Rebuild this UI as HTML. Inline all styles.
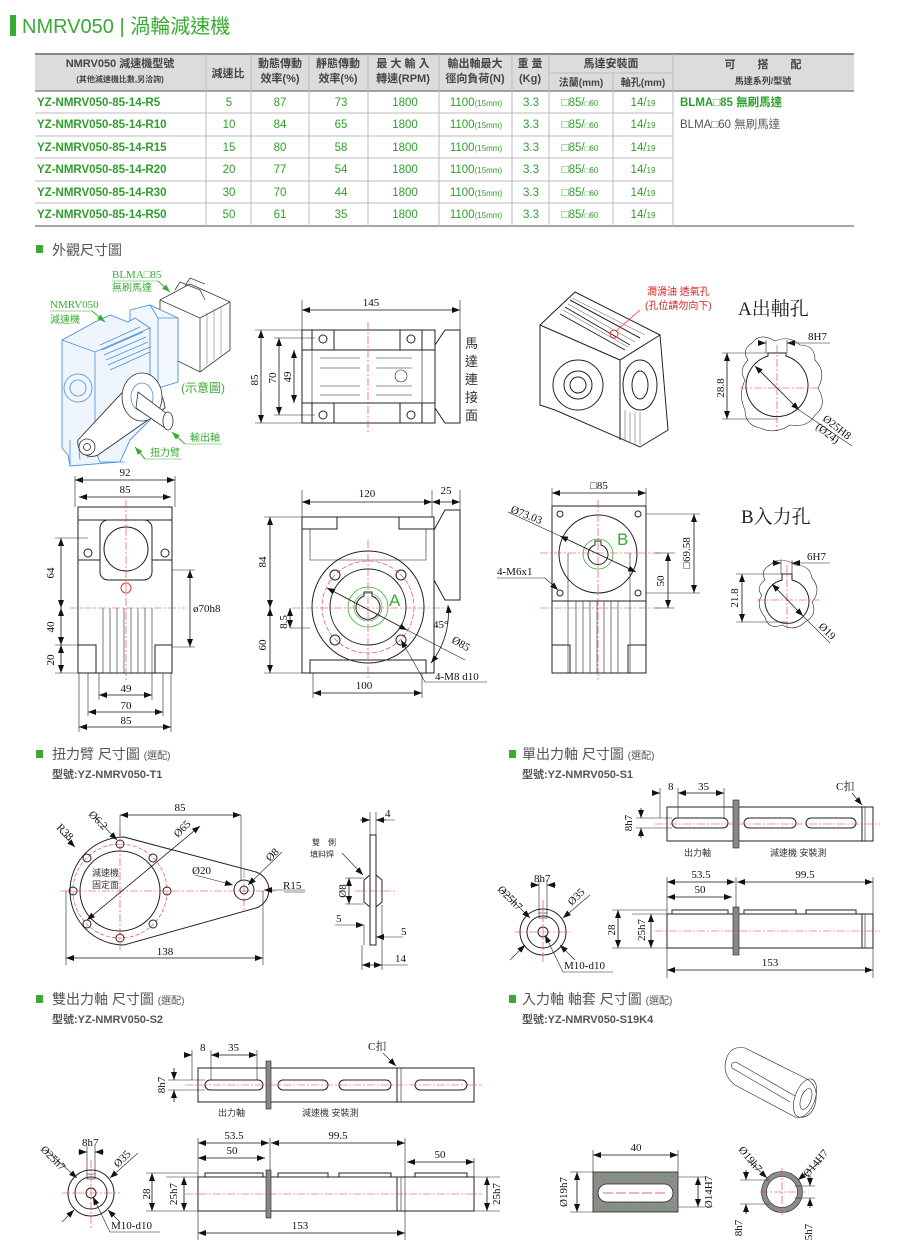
<!DOCTYPE html>
<html><head><meta charset="utf-8"><style>
html,body{margin:0;padding:0;background:#fff;}
svg{display:block;}
text{font-family:"Liberation Sans","Noto Sans CJK TC",sans-serif;}
text.s,.s{font-family:"Liberation Serif","Noto Serif CJK SC",serif;font-size:11px;fill:#111;}
text.serif{font-family:"Liberation Serif","Noto Serif CJK SC",serif;}
.o{fill:none;stroke:#222;stroke-width:1;}
.t{fill:none;stroke:#222;stroke-width:.6;}
.r{fill:none;stroke:#e33;stroke-width:.6;stroke-dasharray:8 2 2 2;}
.d{fill:none;stroke:#111;stroke-width:.8;marker-start:url(#a1);marker-end:url(#a2);}
.b{fill:none;stroke:#4a90d9;stroke-width:.8;}
.tb{font-size:11.5px;}
</style></head><body>
<svg width="900" height="1260" viewBox="0 0 900 1260" xmlns="http://www.w3.org/2000/svg">
<defs>
<marker id="a2" markerWidth="8" markerHeight="6" refX="8" refY="3" orient="auto" markerUnits="userSpaceOnUse"><path d="M0,0 L8,3 L0,6z" fill="#111"/></marker>
<marker id="a1" markerWidth="8" markerHeight="6" refX="0" refY="3" orient="auto" markerUnits="userSpaceOnUse"><path d="M8,0 L0,3 L8,6z" fill="#111"/></marker>
<marker id="g2" markerWidth="8" markerHeight="6" refX="8" refY="3" orient="auto" markerUnits="userSpaceOnUse"><path d="M0,0 L8,3 L0,6z" fill="#3aaa35"/></marker>
</defs>

<!-- Title -->
<rect x="10" y="15" width="6" height="21" fill="#3aaa35"/>
<text x="22" y="33" font-size="20" fill="#3aaa35">NMRV050 | 渦輪減速機</text>

<!-- Table -->
<rect x="35" y="54" width="819" height="37" fill="#dcdcdc"/>
<line x1="35" y1="54" x2="854" y2="54" stroke="#888" stroke-width="2"/>
<line x1="35" y1="91" x2="854" y2="91" stroke="#888" stroke-width="1.5"/>
<line x1="35" y1="226" x2="854" y2="226" stroke="#888" stroke-width="1.5"/>
<g stroke="#bbb" stroke-width="1">
<line x1="206" y1="54" x2="206" y2="226"/><line x1="251" y1="54" x2="251" y2="226"/><line x1="309" y1="54" x2="309" y2="226"/><line x1="368" y1="54" x2="368" y2="226"/><line x1="439" y1="54" x2="439" y2="226"/><line x1="512" y1="54" x2="512" y2="226"/><line x1="549" y1="54" x2="549" y2="226"/><line x1="613" y1="73" x2="613" y2="226"/><line x1="673" y1="54" x2="673" y2="226"/>
<line x1="549" y1="73" x2="673" y2="73"/>
<line x1="35" y1="113" x2="673" y2="113"/><line x1="35" y1="136" x2="673" y2="136"/><line x1="35" y1="158" x2="673" y2="158"/><line x1="35" y1="181" x2="673" y2="181"/><line x1="35" y1="203" x2="673" y2="203"/>
</g>
<g fill="#444" font-size="11" text-anchor="middle" font-weight="bold">
<text x="120" y="67">NMRV050 減速機型號</text>
<text x="120" y="82" font-size="8">(其他減速機比數,另洽詢)</text>
<text x="228" y="77">減速比</text>
<text x="280" y="67">動態傳動</text><text x="280" y="82">效率(%)</text>
<text x="338" y="67">靜態傳動</text><text x="338" y="82">效率(%)</text>
<text x="403" y="67">最 大 輸 入</text><text x="403" y="82">轉速(RPM)</text>
<text x="475" y="67">輸出軸最大</text><text x="475" y="82">徑向負荷(N)</text>
<text x="530" y="67">重 量</text><text x="530" y="82">(Kg)</text>
<text x="611" y="67">馬達安裝面</text>
<text x="581" y="86" font-size="10">法蘭(mm)</text><text x="643" y="86" font-size="10">軸孔(mm)</text>
<text x="763" y="68">可　　搭　　配</text><text x="763" y="84" font-size="9">馬達系列/型號</text>
</g>
<g class="tb" fill="#2f9e2c" font-weight="bold">
<text x="37" y="106">YZ-NMRV050-85-14-R5</text>
<text x="37" y="128">YZ-NMRV050-85-14-R10</text>
<text x="37" y="151">YZ-NMRV050-85-14-R15</text>
<text x="37" y="173">YZ-NMRV050-85-14-R20</text>
<text x="37" y="196">YZ-NMRV050-85-14-R30</text>
<text x="37" y="218">YZ-NMRV050-85-14-R50</text>
</g>
<g class="tb" fill="#2f9e2c" text-anchor="middle">
<text x="229" y="106">5</text><text x="280" y="106">87</text><text x="341" y="106">73</text><text x="405" y="106">1800</text><text x="476" y="106">1100<tspan font-size="8">(15mm)</tspan></text><text x="531" y="106">3.3</text><text x="580" y="106">□85/<tspan font-size="8">□60</tspan></text><text x="643" y="106">14/<tspan font-size="8">19</tspan></text>
<text x="229" y="128">10</text><text x="280" y="128">84</text><text x="341" y="128">65</text><text x="405" y="128">1800</text><text x="476" y="128">1100<tspan font-size="8">(15mm)</tspan></text><text x="531" y="128">3.3</text><text x="580" y="128">□85/<tspan font-size="8">□60</tspan></text><text x="643" y="128">14/<tspan font-size="8">19</tspan></text>
<text x="229" y="151">15</text><text x="280" y="151">80</text><text x="341" y="151">58</text><text x="405" y="151">1800</text><text x="476" y="151">1100<tspan font-size="8">(15mm)</tspan></text><text x="531" y="151">3.3</text><text x="580" y="151">□85/<tspan font-size="8">□60</tspan></text><text x="643" y="151">14/<tspan font-size="8">19</tspan></text>
<text x="229" y="173">20</text><text x="280" y="173">77</text><text x="341" y="173">54</text><text x="405" y="173">1800</text><text x="476" y="173">1100<tspan font-size="8">(15mm)</tspan></text><text x="531" y="173">3.3</text><text x="580" y="173">□85/<tspan font-size="8">□60</tspan></text><text x="643" y="173">14/<tspan font-size="8">19</tspan></text>
<text x="229" y="196">30</text><text x="280" y="196">70</text><text x="341" y="196">44</text><text x="405" y="196">1800</text><text x="476" y="196">1100<tspan font-size="8">(15mm)</tspan></text><text x="531" y="196">3.3</text><text x="580" y="196">□85/<tspan font-size="8">□60</tspan></text><text x="643" y="196">14/<tspan font-size="8">19</tspan></text>
<text x="229" y="218">50</text><text x="280" y="218">61</text><text x="341" y="218">35</text><text x="405" y="218">1800</text><text x="476" y="218">1100<tspan font-size="8">(15mm)</tspan></text><text x="531" y="218">3.3</text><text x="580" y="218">□85/<tspan font-size="8">□60</tspan></text><text x="643" y="218">14/<tspan font-size="8">19</tspan></text>
</g>
<text x="680" y="106" class="tb" fill="#2f9e2c" font-weight="bold">BLMA□85 無刷馬達</text>
<text x="680" y="128" class="tb" fill="#555">BLMA□60 無刷馬達</text>

<!-- Section headers -->
<g font-size="14" fill="#555">
<rect x="36" y="245" width="7" height="8" fill="#3aaa35"/><text x="52" y="255">外觀尺寸圖</text>
<rect x="36" y="750" width="7" height="8" fill="#3aaa35"/><text x="52" y="759">扭力臂 尺寸圖 <tspan font-size="10">(選配)</tspan></text>
<text x="52" y="778" font-size="11" font-weight="bold">型號:YZ-NMRV050-T1</text>
<rect x="509" y="750" width="7" height="8" fill="#3aaa35"/><text x="522" y="759">單出力軸 尺寸圖 <tspan font-size="10">(選配)</tspan></text>
<text x="522" y="778" font-size="11" font-weight="bold">型號:YZ-NMRV050-S1</text>
<rect x="36" y="995" width="7" height="8" fill="#3aaa35"/><text x="52" y="1004">雙出力軸 尺寸圖 <tspan font-size="10">(選配)</tspan></text>
<text x="52" y="1023" font-size="11" font-weight="bold">型號:YZ-NMRV050-S2</text>
<rect x="509" y="995" width="7" height="8" fill="#3aaa35"/><text x="522" y="1004">入力軸 軸套 尺寸圖 <tspan font-size="10">(選配)</tspan></text>
<text x="522" y="1023" font-size="11" font-weight="bold">型號:YZ-NMRV050-S19K4</text>
</g>

<!-- Isometric illustration (left) -->
<g>
<!-- motor -->
<path d="M160,300 L190,284 L230,302 L230,350 L200,372 L160,352z" fill="#fff" stroke="#444" stroke-width=".9"/>
<path d="M160,300 L200,318 L230,302 M200,318 L200,372" fill="none" stroke="#444" stroke-width=".8"/>
<path d="M175,290 L180,282 L200,290 L205,300 M185,286 L190,278 L205,284" fill="none" stroke="#444" stroke-width=".8"/>
<path d="M207,313 L207,365 M214,309 L214,360 M221,306 L221,355" fill="none" stroke="#666" stroke-width=".5"/>
<!-- motor flange (blue) -->
<path d="M130,310 L150,305 L178,318 L178,382 L158,388 L130,375z" fill="#f2f7fd" stroke="#4a90d9" stroke-width=".9"/>
<path d="M150,305 L158,318 L158,388 M158,318 L178,318" class="b"/>
<!-- gearbox body -->
<path d="M62,340 L95,322 L110,315 L128,322 L135,318 L150,328 L150,420 L130,440 L120,462 L70,466 L68,455 L62,448z" fill="#eef5fd" stroke="#4a90d9" stroke-width=".9"/>
<path d="M62,340 L95,352 L150,328 M95,352 L95,450" class="b"/>
<path d="M100,345 L140,327 M102,350 L143,332 M104,355 L146,337 M106,360 L148,342 M108,365 L150,347 M110,370 L150,352" class="b"/>
<circle cx="78" cy="388" r="14" class="b"/>
<circle cx="78" cy="388" r="8" class="b"/>
<path d="M70,440 L70,465 M78,440 L80,460 M86,440 L88,458 M94,440 L96,456" class="b"/>
<path d="M95,450 L100,462 L125,462" class="b"/>
<!-- torque arm -->
<path d="M78,440 L132,382 A26,30 0 0 1 165,408 L98,455 A14,14 0 0 1 78,440z" fill="#fff" stroke="#333" stroke-width=".9"/>
<ellipse cx="142" cy="397" rx="20" ry="24" fill="#fff" stroke="#333" stroke-width=".8"/>
<ellipse cx="142" cy="397" rx="11" ry="14" fill="none" stroke="#4a90d9" stroke-width=".8"/>
<circle cx="87" cy="447" r="8" fill="#fff" stroke="#333" stroke-width=".8"/><circle cx="87" cy="447" r="3.5" fill="none" stroke="#333" stroke-width=".8"/>
<path d="M138,392 L166,413 L172,420 L165,428 L136,408z" fill="#fff" stroke="#333" stroke-width=".8"/>
<ellipse cx="168" cy="421" rx="5" ry="9" fill="#fff" stroke="#333" stroke-width=".8"/>
</g>
<g font-size="11" fill="#3aaa35">
<text x="112" y="278" class="serif" style="fill:#3aaa35">BLMA□85</text><text x="112" y="291" font-size="10">無刷馬達</text>
<line x1="112" y1="281" x2="158" y2="281" stroke="#3aaa35" stroke-width=".6"/>
<text x="50" y="308" class="serif" style="fill:#3aaa35">NMRV050</text><text x="50" y="323" font-size="10">減速機</text>
<line x1="50" y1="311" x2="92" y2="311" stroke="#3aaa35" stroke-width=".6"/>
<path d="M92,311 L105,322" stroke="#3aaa35" fill="none" marker-end="url(#g2)"/>
<path d="M158,281 L170,292" stroke="#3aaa35" fill="none" marker-end="url(#g2)"/>
<text x="181" y="392" font-size="12">(示意圖)</text>
<text x="190" y="441" font-size="10">輸出軸</text><line x1="185" y1="444" x2="222" y2="444" stroke="#3aaa35" stroke-width=".6"/>
<path d="M185,444 L172,432" stroke="#3aaa35" fill="none" marker-end="url(#g2)"/>
<text x="150" y="456" font-size="10">扭力臂</text><line x1="145" y1="459" x2="182" y2="459" stroke="#3aaa35" stroke-width=".6"/>
<path d="M145,459 L135,447" stroke="#3aaa35" fill="none" marker-end="url(#g2)"/>
</g>

<!-- Top front view 145 -->
<g>
<rect x="302" y="330" width="133" height="93" class="o"/>
<rect x="312" y="330" width="22" height="20" class="o"/><rect x="400" y="330" width="22" height="20" class="o"/>
<rect x="312" y="403" width="22" height="20" class="o"/><rect x="400" y="403" width="22" height="20" class="o"/>
<line x1="302" y1="350" x2="435" y2="350" class="o"/><line x1="302" y1="403" x2="435" y2="403" class="o"/>
<g class="t"><line x1="320" y1="358" x2="360" y2="358"/><line x1="376" y1="358" x2="412" y2="358"/><line x1="320" y1="368" x2="360" y2="368"/><line x1="376" y1="368" x2="412" y2="368"/><line x1="320" y1="386" x2="360" y2="386"/><line x1="376" y1="386" x2="412" y2="386"/><line x1="320" y1="395" x2="360" y2="395"/><line x1="376" y1="395" x2="412" y2="395"/><line x1="312" y1="350" x2="312" y2="403"/><line x1="422" y1="350" x2="422" y2="403"/></g>
<circle cx="401" cy="376" r="6" class="t"/>
<circle cx="323" cy="339" r="4" class="o"/><circle cx="411" cy="339" r="4" class="o"/><circle cx="323" cy="415" r="4" class="o"/><circle cx="411" cy="415" r="4" class="o"/>
<path d="M435,345 L445,330 L460,330 L460,423 L445,423 L435,408" class="o"/>
<line x1="368" y1="322" x2="368" y2="432" class="r"/>
<line x1="302" y1="300" x2="302" y2="330" class="t"/><line x1="460" y1="300" x2="460" y2="330" class="t"/>
<line x1="302" y1="310" x2="460" y2="310" class="d"/>
<text x="371" y="306" class="s" text-anchor="middle">145</text>
<line x1="255" y1="330" x2="302" y2="330" class="t"/><line x1="255" y1="423" x2="302" y2="423" class="t"/>
<line x1="274" y1="338" x2="315" y2="338" class="t"/><line x1="274" y1="415" x2="315" y2="415" class="t"/>
<line x1="261" y1="330" x2="261" y2="423" class="d"/><line x1="279" y1="338" x2="279" y2="415" class="d"/><line x1="294" y1="350" x2="294" y2="403" class="d"/>
<text transform="translate(258,380) rotate(-90)" class="s" text-anchor="middle">85</text>
<text transform="translate(276,378) rotate(-90)" class="s" text-anchor="middle">70</text>
<text transform="translate(291,377) rotate(-90)" class="s" text-anchor="middle">49</text>
<g font-size="13" fill="#333"><text x="465" y="348">馬</text><text x="465" y="366">達</text><text x="465" y="384">連</text><text x="465" y="402">接</text><text x="465" y="420">面</text></g>
</g>

<!-- Iso view right -->
<g class="o">
<path d="M540,325 L575,292 L660,335 L668,430 L640,447 L555,410 L540,405z" fill="#fff"/>
<path d="M540,325 L620,360 L660,335 M620,360 L620,440"/>
<path d="M570,300 L640,338 M565,307 L630,345 M560,314 L625,350"/>
<path d="M572,298 L645,335 M568,304 L635,342 M563,310 L628,347" stroke-width=".4"/>
<circle cx="578" cy="385" r="25"/><circle cx="578" cy="385" r="14"/><circle cx="578" cy="385" r="8"/>
<ellipse cx="640" cy="385" rx="17" ry="25"/><ellipse cx="640" cy="385" rx="8" ry="14"/>
<path d="M625,410 L625,440 M630,412 L630,442 M635,412 L635,444 M640,412 L640,445" stroke-width=".4"/>
</g>
<circle cx="614" cy="334" r="4" fill="none" stroke="#e33"/>
<line x1="616" y1="331" x2="640" y2="310" stroke="#e33" stroke-width=".7"/>
<g fill="#d62020" font-size="10"><text x="647" y="295">潤滑油 透氣孔</text><text x="645" y="309">(孔位請勿向下)</text></g>

<!-- A output hole -->
<text x="738" y="315" class="serif" font-size="19" fill="#222">A出軸孔</text>
<path d="M748,360 Q741,350 752,343 Q760,332 775,341 Q790,335 800,345 Q815,345 815,360 Q827,372 818,388 Q828,405 815,415 Q808,428 790,425 Q775,435 760,428 Q745,425 745,410 Q738,395 745,380 Q738,370 748,360z" class="t"/>
<path d="M768,356 A31,31 0 1 0 786,356 L786,353 L768,353z" class="o"/>
<line x1="777" y1="345" x2="777" y2="430" class="r"/><line x1="740" y1="388" x2="820" y2="388" class="r"/>
<line x1="766" y1="340" x2="766" y2="353" class="t"/><line x1="787" y1="340" x2="787" y2="353" class="t"/>
<line x1="758" y1="343" x2="766" y2="343" class="d" style="marker-start:none"/><line x1="795" y1="343" x2="787" y2="343" class="d" style="marker-start:none"/>
<line x1="787" y1="343" x2="830" y2="343" class="t"/>
<text x="808" y="340" class="s">8H7</text>
<line x1="722" y1="353" x2="768" y2="353" class="t"/><line x1="722" y1="419" x2="777" y2="419" class="t"/>
<line x1="727" y1="353" x2="727" y2="419" class="d"/>
<text transform="translate(724,388) rotate(-90)" class="s" text-anchor="middle">28.8</text>
<line x1="755" y1="366" x2="799" y2="410" class="d"/><line x1="799" y1="410" x2="852" y2="446" class="t"/>
<text transform="translate(822,420) rotate(38)" class="s">Ø25H8</text>
<text transform="translate(815,428) rotate(38)" class="s">(Ø24)</text>

<!-- Bottom left side view -->
<g>
<rect x="78" y="507" width="94" height="13" class="o"/>
<path d="M78,520 L78,673 L172,673 L172,520" class="o"/>
<rect x="100" y="520" width="52" height="60" rx="8" class="o"/>
<circle cx="126" cy="549" r="22" class="o"/>
<circle cx="88" cy="553" r="4" class="o"/><circle cx="165" cy="553" r="4" class="o"/>
<circle cx="126" cy="588" r="5" fill="none" stroke="#e33"/>
<line x1="78" y1="560" x2="100" y2="560" class="o"/><line x1="152" y1="560" x2="172" y2="560" class="o"/>
<g class="t"><line x1="103" y1="608" x2="103" y2="673"/><line x1="110" y1="608" x2="110" y2="673"/><line x1="117" y1="608" x2="117" y2="673"/><line x1="124" y1="608" x2="124" y2="673"/><line x1="131" y1="608" x2="131" y2="673"/><line x1="138" y1="608" x2="138" y2="673"/><line x1="145" y1="608" x2="145" y2="673"/><line x1="152" y1="608" x2="152" y2="673"/></g>
<rect x="78" y="645" width="18" height="28" class="o"/><rect x="155" y="645" width="17" height="28" class="o"/>
<line x1="70" y1="608" x2="185" y2="608" class="r"/><line x1="126" y1="500" x2="126" y2="680" class="r"/>
<line x1="75" y1="476" x2="75" y2="507" class="t"/><line x1="175" y1="476" x2="175" y2="507" class="t"/>
<line x1="75" y1="480" x2="175" y2="480" class="d"/><text x="125" y="476" class="s" text-anchor="middle">92</text>
<line x1="79" y1="497" x2="171" y2="497" class="d"/><text x="125" y="493" class="s" text-anchor="middle">85</text>
<line x1="55" y1="538" x2="88" y2="538" class="t"/><line x1="55" y1="673" x2="78" y2="673" class="t"/><line x1="55" y1="645" x2="78" y2="645" class="t"/>
<line x1="61" y1="538" x2="61" y2="608" class="d"/><line x1="61" y1="608" x2="61" y2="645" class="d"/><line x1="61" y1="645" x2="61" y2="673" class="d"/>
<text transform="translate(54,573) rotate(-90)" class="s" text-anchor="middle">64</text>
<text transform="translate(54,627) rotate(-90)" class="s" text-anchor="middle">40</text>
<text transform="translate(54,660) rotate(-90)" class="s" text-anchor="middle">20</text>
<line x1="172" y1="570" x2="195" y2="570" class="t"/><line x1="172" y1="647" x2="195" y2="647" class="t"/>
<line x1="190" y1="570" x2="190" y2="647" class="d"/><text x="193" y="612" class="s">ø70h8</text>
<line x1="99" y1="673" x2="99" y2="700" class="t"/><line x1="152" y1="673" x2="152" y2="700" class="t"/>
<line x1="88" y1="673" x2="88" y2="716" class="t"/><line x1="163" y1="673" x2="163" y2="716" class="t"/>
<line x1="79" y1="673" x2="79" y2="732" class="t"/><line x1="171" y1="673" x2="171" y2="732" class="t"/>
<line x1="99" y1="695" x2="152" y2="695" class="d"/><text x="126" y="692" class="s" text-anchor="middle">49</text>
<line x1="88" y1="712" x2="163" y2="712" class="d"/><text x="126" y="709" class="s" text-anchor="middle">70</text>
<line x1="79" y1="727" x2="171" y2="727" class="d"/><text x="126" y="724" class="s" text-anchor="middle">85</text>
</g>

<!-- Bottom center view A -->
<g>
<rect x="302" y="517" width="132" height="156" class="o"/>
<rect x="302" y="517" width="35" height="12" class="o"/><rect x="399" y="517" width="35" height="12" class="o"/>
<path d="M310,529 L310,560 L426,560 L426,529" class="t"/>
<path d="M434,530 L445,510 L460,510 L460,600 L445,600 L434,580" class="o"/>
<rect x="310" y="660" width="116" height="13" class="o"/>
<circle cx="368" cy="607" r="56" class="o"/><circle cx="368" cy="607" r="46" fill="none" stroke="#e33" stroke-width=".6" stroke-dasharray="5 2"/>
<circle cx="368" cy="607" r="38" class="o"/>
<circle cx="368" cy="607" r="20" fill="none" stroke="#3aaa35" stroke-width=".8"/><circle cx="368" cy="607" r="14" fill="none" stroke="#3aaa35" stroke-width=".6"/>
<path d="M364,596 L364,592 L372,592 L372,596 A12,12 0 1 1 364,596z" class="o"/>
<circle cx="335" cy="575" r="5" class="o"/><circle cx="401" cy="575" r="5" class="o"/><circle cx="335" cy="640" r="5" class="o"/><circle cx="401" cy="640" r="5" class="o"/>
<line x1="292" y1="608" x2="450" y2="608" class="r"/><line x1="368" y1="540" x2="368" y2="680" class="r"/>
<text x="389" y="606" font-size="17" fill="#3aaa35">A</text>
<line x1="302" y1="490" x2="302" y2="517" class="t"/><line x1="432" y1="490" x2="432" y2="517" class="t"/><line x1="460" y1="490" x2="460" y2="510" class="t"/>
<line x1="302" y1="502" x2="432" y2="502" class="d"/><text x="367" y="497" class="s" text-anchor="middle">120</text>
<line x1="432" y1="502" x2="460" y2="502" class="d"/><text x="446" y="494" class="s" text-anchor="middle">25</text>
<line x1="264" y1="517" x2="302" y2="517" class="t"/><line x1="264" y1="673" x2="302" y2="673" class="t"/>
<line x1="270" y1="517" x2="270" y2="608" class="d"/><line x1="270" y1="608" x2="270" y2="673" class="d"/>
<text transform="translate(266,562) rotate(-90)" class="s" text-anchor="middle">84</text>
<text transform="translate(266,645) rotate(-90)" class="s" text-anchor="middle">60</text>
<line x1="290" y1="628" x2="310" y2="628" class="t"/><line x1="290" y1="608" x2="290" y2="628" class="d"/>
<text transform="translate(287,622) rotate(-90)" class="s" text-anchor="middle">8.5</text>
<line x1="313" y1="673" x2="313" y2="698" class="t"/><line x1="422" y1="673" x2="422" y2="698" class="t"/>
<line x1="313" y1="693" x2="422" y2="693" class="d"/><text x="364" y="689" class="s" text-anchor="middle">100</text>
<line x1="327" y1="588" x2="407" y2="630" class="d"/>
<line x1="407" y1="630" x2="465" y2="660" class="t"/>
<text transform="translate(451,642) rotate(30)" class="s">Ø85</text>
<path d="M448,605 A80,80 0 0 1 431,663" class="d"/>
<text x="433" y="628" class="s">45°</text>
<line x1="401" y1="640" x2="425" y2="682" class="t" marker-start="url(#a1)"/><line x1="425" y1="682" x2="487" y2="682" class="t"/>
<text x="435" y="680" class="s">4-M8 d10</text>
</g>

<!-- Bottom right view B -->
<g>
<rect x="552" y="506" width="94" height="95" class="o"/>
<path d="M552,553 L552,673 L646,673 L646,553" class="o"/>
<line x1="568" y1="553" x2="568" y2="673" class="t"/><line x1="630" y1="553" x2="630" y2="673" class="t"/>
<g class="t"><line x1="576" y1="601" x2="576" y2="673"/><line x1="583" y1="601" x2="583" y2="673"/><line x1="590" y1="601" x2="590" y2="673"/><line x1="597" y1="601" x2="597" y2="673"/><line x1="604" y1="601" x2="604" y2="673"/><line x1="611" y1="601" x2="611" y2="673"/><line x1="618" y1="601" x2="618" y2="673"/></g>
<rect x="552" y="645" width="18" height="28" class="o"/><rect x="628" y="645" width="18" height="28" class="o"/>
<circle cx="598" cy="554" r="39" class="o"/>
<circle cx="598" cy="554" r="15" fill="none" stroke="#3aaa35" stroke-width=".8"/>
<path d="M595,545 L595,541 L601,541 L601,545 A10,10 0 1 1 595,545z" class="o"/>
<circle cx="560" cy="514" r="3" class="o"/><circle cx="638" cy="514" r="3" class="o"/><circle cx="560" cy="593" r="3" class="o"/><circle cx="638" cy="593" r="3" class="o"/>
<line x1="540" y1="553" x2="660" y2="553" class="r"/><line x1="598" y1="500" x2="598" y2="680" class="r"/><line x1="540" y1="608" x2="660" y2="608" class="r"/>
<text x="617" y="545" font-size="17" fill="#3aaa35">B</text>
<line x1="552" y1="488" x2="552" y2="506" class="t"/><line x1="646" y1="488" x2="646" y2="506" class="t"/>
<line x1="552" y1="493" x2="646" y2="493" class="d"/><text x="599" y="489" class="s" text-anchor="middle">□85</text>
<line x1="560" y1="536" x2="636" y2="572" class="d"/><line x1="560" y1="536" x2="508" y2="512" class="t"/>
<text transform="translate(510,512) rotate(22)" class="s">Ø73.03</text>
<line x1="646" y1="514" x2="700" y2="514" class="t"/><line x1="646" y1="593" x2="700" y2="593" class="t"/>
<line x1="694" y1="514" x2="694" y2="593" class="d"/><text transform="translate(690,553) rotate(-90)" class="s" text-anchor="middle">□69.58</text>
<line x1="655" y1="553" x2="675" y2="553" class="t"/><line x1="655" y1="608" x2="675" y2="608" class="t"/>
<line x1="668" y1="553" x2="668" y2="608" class="d"/><text transform="translate(664,581) rotate(-90)" class="s" text-anchor="middle">50</text>
<text x="497" y="575" class="s">4-M6x1</text><line x1="497" y1="578" x2="545" y2="578" class="t"/>
<line x1="545" y1="578" x2="558" y2="590" class="t" marker-end="url(#a2)"/>
</g>

<!-- B input hole -->
<text x="741" y="523" class="serif" font-size="19" fill="#222">B入力孔</text>
<path d="M765,580 Q760,570 770,565 Q780,555 795,565 Q810,565 812,578 Q822,590 812,602 Q818,615 805,622 Q795,632 782,625 Q768,630 765,617 Q755,605 762,595 Q755,588 765,580z" class="t"/>
<path d="M782,580 A22,22 0 1 0 792,580 L792,574 L782,574z" class="o"/>
<line x1="787" y1="565" x2="787" y2="630" class="r"/><line x1="757" y1="600" x2="820" y2="600" class="r"/>
<line x1="781" y1="560" x2="781" y2="574" class="t"/><line x1="792" y1="560" x2="792" y2="574" class="t"/>
<line x1="772" y1="563" x2="781" y2="563" class="d" style="marker-start:none"/><line x1="800" y1="563" x2="792" y2="563" class="d" style="marker-start:none"/>
<line x1="792" y1="563" x2="830" y2="563" class="t"/><text x="807" y="560" class="s">6H7</text>
<line x1="736" y1="574" x2="782" y2="574" class="t"/><line x1="736" y1="622" x2="787" y2="622" class="t"/>
<line x1="742" y1="574" x2="742" y2="622" class="d"/><text transform="translate(738,598) rotate(-90)" class="s" text-anchor="middle">21.8</text>
<line x1="772" y1="584" x2="803" y2="616" class="d"/><line x1="803" y1="616" x2="830" y2="643" class="t"/>
<text transform="translate(818,627) rotate(45)" class="s">Ø19</text>

<!-- Torque arm -->
<g>
<path d="M124,837 L256,872 A19,19 0 0 1 256,908 L124,945 A54,54 0 0 1 124,837z" class="o"/>
<circle cx="120" cy="891" r="40" class="o"/>
<circle cx="120" cy="891" r="47" fill="none" stroke="#e33" stroke-width=".6" stroke-dasharray="4 2"/>
<g class="o"><circle cx="120" cy="844" r="4"/><circle cx="120" cy="938" r="4"/><circle cx="73" cy="891" r="4"/><circle cx="167" cy="891" r="4"/><circle cx="87" cy="858" r="4"/><circle cx="153" cy="858" r="4"/><circle cx="87" cy="924" r="4"/><circle cx="153" cy="924" r="4"/></g>
<circle cx="244" cy="890" r="10" class="o"/><circle cx="244" cy="890" r="4" class="o"/>
<line x1="60" y1="891" x2="275" y2="891" class="r"/><line x1="120" y1="830" x2="120" y2="952" class="r"/><line x1="244" y1="870" x2="244" y2="910" class="r"/>
<text x="92" y="876" font-size="9" fill="#333">減速機</text><text x="92" y="888" font-size="9" fill="#333">固定面</text>
<line x1="120" y1="815" x2="120" y2="836" class="t"/><line x1="241" y1="815" x2="241" y2="880" class="t"/>
<line x1="120" y1="815" x2="241" y2="815" class="d"/><text x="180" y="811" class="s" text-anchor="middle">85</text>
<line x1="66" y1="891" x2="66" y2="965" class="t"/><line x1="263" y1="891" x2="263" y2="965" class="t"/>
<line x1="66" y1="958" x2="263" y2="958" class="d"/><text x="165" y="955" class="s" text-anchor="middle">138</text>
<line x1="60" y1="832" x2="75" y2="847" class="t" marker-end="url(#a2)"/><text transform="translate(56,828) rotate(45)" class="s">R38</text>
<line x1="95" y1="817" x2="117" y2="840" class="t" marker-end="url(#a2)"/><text transform="translate(88,815) rotate(45)" class="s">Ø6.2</text>
<line x1="200" y1="826" x2="87" y2="920" class="d"/><text transform="translate(178,838) rotate(-45)" class="s">Ø65</text>
<line x1="195" y1="875" x2="233" y2="885" class="t" marker-end="url(#a2)"/><text x="192" y="874" class="s">Ø20</text>
<line x1="282" y1="852" x2="248" y2="885" class="t" marker-end="url(#a2)"/><text transform="translate(270,862) rotate(-45)" class="s">Ø8</text>
<line x1="305" y1="890" x2="264" y2="890" class="t" marker-end="url(#a2)"/><line x1="284" y1="892" x2="305" y2="892" class="t"/><text x="283" y="889" class="s">R15</text>
<rect x="370" y="835" width="6" height="110" class="o"/>
<path d="M370,875 L364,880 L364,902 L370,907 M376,875 L382,880 L382,902 L376,907" class="o"/>
<line x1="355" y1="891" x2="395" y2="891" class="r"/>
<line x1="370" y1="812" x2="370" y2="835" class="t"/><line x1="376" y1="812" x2="376" y2="835" class="t"/>
<line x1="360" y1="820" x2="370" y2="820" class="d" style="marker-start:none"/><line x1="386" y1="820" x2="376" y2="820" class="d" style="marker-start:none"/><line x1="376" y1="820" x2="395" y2="820" class="t"/>
<text x="385" y="817" class="s">4</text>
<text x="312" y="845" font-size="8" fill="#333">雙　側</text><text x="310" y="857" font-size="8" fill="#333">填料焊</text>
<line x1="342" y1="853" x2="363" y2="875" class="t" marker-end="url(#a2)"/>
<line x1="345" y1="878" x2="364" y2="878" class="t"/><line x1="345" y1="904" x2="364" y2="904" class="t"/>
<line x1="349" y1="878" x2="349" y2="904" class="d"/><text transform="translate(346,891) rotate(-90)" class="s" text-anchor="middle">Ø8</text>
<line x1="335" y1="925" x2="364" y2="925" class="t" marker-end="url(#a2)"/><text x="336" y="922" class="s">5</text>
<line x1="364" y1="925" x2="364" y2="945" class="t"/>
<line x1="403" y1="937" x2="376" y2="937" class="t" marker-end="url(#a2)"/><text x="401" y="935" class="s">5</text>
<line x1="362" y1="945" x2="362" y2="970" class="t"/><line x1="382" y1="905" x2="382" y2="970" class="t"/>
<line x1="362" y1="965" x2="382" y2="965" class="d"/><line x1="382" y1="965" x2="408" y2="965" class="t"/><text x="395" y="962" class="s">14</text>
</g>

<!-- Single shaft S1 top -->
<g>
<rect x="667" y="807" width="206" height="34" class="o"/>
<rect x="733" y="800" width="6" height="48" fill="#888" stroke="#222" stroke-width=".6"/>
<line x1="862" y1="807" x2="862" y2="841" class="o"/><line x1="865" y1="807" x2="865" y2="841" class="t"/>
<rect x="672" y="818" width="56" height="10" rx="5" class="o"/><rect x="744" y="818" width="52" height="10" rx="5" class="o"/><rect x="806" y="818" width="50" height="10" rx="5" class="o"/>
<line x1="655" y1="824" x2="880" y2="824" class="r"/>
<line x1="660" y1="788" x2="660" y2="818" class="t"/><line x1="678" y1="788" x2="678" y2="818" class="t"/><line x1="724" y1="788" x2="724" y2="818" class="t"/>
<line x1="652" y1="793" x2="660" y2="793" class="d" style="marker-start:none"/><line x1="678" y1="793" x2="724" y2="793" class="d"/>
<text x="668" y="790" class="s">8</text><text x="698" y="790" class="s">35</text>
<text x="836" y="790" class="s">C扣</text><line x1="852" y1="793" x2="862" y2="805" class="t" marker-end="url(#a2)"/>
<line x1="636" y1="818" x2="672" y2="818" class="t"/><line x1="636" y1="828" x2="672" y2="828" class="t"/>
<line x1="641" y1="808" x2="641" y2="818" class="d" style="marker-start:none"/><line x1="641" y1="838" x2="641" y2="828" class="d" style="marker-start:none"/>
<text transform="translate(632,823) rotate(-90)" class="s" text-anchor="middle">8h7</text>
<text x="684" y="856" font-size="9" fill="#333">出力軸</text><text x="770" y="856" font-size="9" fill="#333">減速機 安裝測</text>
</g>
<!-- S1 lower -->
<g>
<rect x="667" y="914" width="206" height="34" class="o"/>
<rect x="733" y="907" width="6" height="48" fill="#888" stroke="#222" stroke-width=".6"/>
<line x1="862" y1="914" x2="862" y2="948" class="o"/><line x1="865" y1="914" x2="865" y2="948" class="t"/>
<rect x="672" y="910" width="56" height="4" class="o"/><rect x="744" y="910" width="52" height="4" class="o"/><rect x="806" y="910" width="50" height="4" class="o"/>
<line x1="655" y1="931" x2="880" y2="931" class="r"/>
<line x1="667" y1="877" x2="667" y2="978" class="t"/><line x1="736" y1="877" x2="736" y2="907" class="t"/><line x1="873" y1="877" x2="873" y2="978" class="t"/>
<line x1="667" y1="882" x2="735" y2="882" class="d"/><text x="701" y="878" class="s" text-anchor="middle">53.5</text>
<line x1="737" y1="882" x2="873" y2="882" class="d"/><text x="805" y="878" class="s" text-anchor="middle">99.5</text>
<line x1="667" y1="897" x2="732" y2="897" class="d"/><text x="700" y="893" class="s" text-anchor="middle">50</text>
<line x1="612" y1="910" x2="667" y2="910" class="t"/><line x1="612" y1="948" x2="667" y2="948" class="t"/><line x1="632" y1="914" x2="667" y2="914" class="t"/>
<line x1="618" y1="910" x2="618" y2="948" class="d"/><line x1="651" y1="914" x2="651" y2="948" class="d"/>
<text transform="translate(615,930) rotate(-90)" class="s" text-anchor="middle">28</text>
<text transform="translate(645,930) rotate(-90)" class="s" text-anchor="middle">25h7</text>
<line x1="667" y1="970" x2="873" y2="970" class="d"/><text x="770" y="966" class="s" text-anchor="middle">153</text>
<circle cx="543" cy="932" r="23" class="o"/><circle cx="543" cy="932" r="16" class="o"/><circle cx="543" cy="932" r="5" class="o"/>
<rect x="539" y="913" width="8" height="5" class="t"/>
<line x1="515" y1="932" x2="572" y2="932" class="r"/><line x1="543" y1="900" x2="543" y2="962" class="r"/>
<line x1="539" y1="880" x2="539" y2="913" class="t"/><line x1="547" y1="880" x2="547" y2="913" class="t"/>
<line x1="530" y1="885" x2="539" y2="885" class="d" style="marker-start:none"/><line x1="556" y1="885" x2="547" y2="885" class="d" style="marker-start:none"/>
<text x="534" y="882" class="s">8h7</text>
<line x1="502" y1="890" x2="530" y2="918" class="t" marker-end="url(#a2)"/><text transform="translate(497,890) rotate(45)" class="s">Ø25h7</text>
<line x1="590" y1="895" x2="563" y2="918" class="t" marker-end="url(#a2)"/><text transform="translate(572,906) rotate(-45)" class="s">Ø35</text>
<line x1="510" y1="960" x2="525" y2="945" class="t" marker-end="url(#a2)"/>
<line x1="560" y1="945" x2="575" y2="960" class="t" marker-start="url(#a1)"/>
<line x1="545" y1="935" x2="563" y2="972" class="t" marker-start="url(#a1)"/><line x1="563" y1="972" x2="613" y2="972" class="t"/>
<text x="564" y="969" class="s">M10-d10</text>
</g>

<!-- S2 top -->
<g>
<rect x="198" y="1068" width="276" height="34" class="o"/>
<rect x="266" y="1061" width="5" height="48" fill="#888" stroke="#222" stroke-width=".6"/>
<line x1="397" y1="1068" x2="397" y2="1102" class="o"/><line x1="401" y1="1068" x2="401" y2="1102" class="t"/>
<rect x="205" y="1080" width="58" height="10" rx="5" class="o"/><rect x="278" y="1080" width="50" height="10" rx="5" class="o"/><rect x="339" y="1080" width="52" height="10" rx="5" class="o"/><rect x="415" y="1080" width="52" height="10" rx="5" class="o"/>
<line x1="185" y1="1085" x2="482" y2="1085" class="r"/>
<line x1="192" y1="1050" x2="192" y2="1080" class="t"/><line x1="211" y1="1050" x2="211" y2="1080" class="t"/><line x1="257" y1="1050" x2="257" y2="1080" class="t"/>
<line x1="184" y1="1055" x2="192" y2="1055" class="d" style="marker-start:none"/><line x1="211" y1="1055" x2="257" y2="1055" class="d"/>
<text x="200" y="1051" class="s">8</text><text x="228" y="1051" class="s">35</text>
<text x="368" y="1050" class="s">C扣</text><line x1="383" y1="1053" x2="396" y2="1066" class="t" marker-end="url(#a2)"/>
<line x1="168" y1="1080" x2="205" y2="1080" class="t"/><line x1="168" y1="1090" x2="205" y2="1090" class="t"/>
<line x1="174" y1="1068" x2="174" y2="1080" class="d" style="marker-start:none"/><line x1="174" y1="1102" x2="174" y2="1090" class="d" style="marker-start:none"/>
<text transform="translate(165,1085) rotate(-90)" class="s" text-anchor="middle">8h7</text>
<text x="218" y="1116" font-size="9" fill="#333">出力軸</text><text x="302" y="1116" font-size="9" fill="#333">減速機 安裝測</text>
</g>
<!-- S2 lower -->
<g>
<rect x="198" y="1177" width="276" height="34" class="o"/>
<rect x="266" y="1170" width="5" height="48" fill="#888" stroke="#222" stroke-width=".6"/>
<line x1="397" y1="1177" x2="397" y2="1211" class="o"/><line x1="401" y1="1177" x2="401" y2="1211" class="t"/>
<rect x="205" y="1173" width="58" height="4" class="o"/><rect x="278" y="1173" width="50" height="4" class="o"/><rect x="339" y="1173" width="52" height="4" class="o"/><rect x="415" y="1173" width="52" height="4" class="o"/>
<line x1="185" y1="1194" x2="482" y2="1194" class="r"/>
<line x1="198" y1="1138" x2="198" y2="1240" class="t"/><line x1="270" y1="1138" x2="270" y2="1170" class="t"/><line x1="405" y1="1138" x2="405" y2="1240" class="t"/><line x1="474" y1="1158" x2="474" y2="1177" class="t"/>
<line x1="198" y1="1143" x2="269" y2="1143" class="d"/><text x="234" y="1139" class="s" text-anchor="middle">53.5</text>
<line x1="271" y1="1143" x2="405" y2="1143" class="d"/><text x="338" y="1139" class="s" text-anchor="middle">99.5</text>
<line x1="198" y1="1158" x2="265" y2="1158" class="d"/><text x="232" y="1154" class="s" text-anchor="middle">50</text>
<line x1="407" y1="1162" x2="474" y2="1162" class="d"/><text x="440" y="1158" class="s" text-anchor="middle">50</text>
<line x1="146" y1="1173" x2="198" y2="1173" class="t"/><line x1="146" y1="1211" x2="198" y2="1211" class="t"/><line x1="166" y1="1177" x2="198" y2="1177" class="t"/>
<line x1="152" y1="1173" x2="152" y2="1211" class="d"/><line x1="184" y1="1177" x2="184" y2="1211" class="d"/>
<text transform="translate(150,1194) rotate(-90)" class="s" text-anchor="middle">28</text>
<text transform="translate(177,1194) rotate(-90)" class="s" text-anchor="middle">25h7</text>
<line x1="474" y1="1177" x2="500" y2="1177" class="t"/><line x1="474" y1="1211" x2="500" y2="1211" class="t"/>
<line x1="487" y1="1177" x2="487" y2="1211" class="d"/><text transform="translate(500,1194) rotate(-90)" class="s" text-anchor="middle">25h7</text>
<line x1="198" y1="1233" x2="405" y2="1233" class="d"/><text x="300" y="1229" class="s" text-anchor="middle">153</text>
<circle cx="91" cy="1193" r="23" class="o"/><circle cx="91" cy="1193" r="16" class="o"/><circle cx="91" cy="1193" r="5" class="o"/>
<rect x="87" y="1174" width="8" height="5" class="t"/>
<line x1="62" y1="1193" x2="120" y2="1193" class="r"/><line x1="91" y1="1160" x2="91" y2="1228" class="r"/>
<line x1="87" y1="1146" x2="87" y2="1174" class="t"/><line x1="95" y1="1146" x2="95" y2="1174" class="t"/>
<line x1="78" y1="1152" x2="87" y2="1152" class="d" style="marker-start:none"/><line x1="104" y1="1152" x2="95" y2="1152" class="d" style="marker-start:none"/>
<text x="82" y="1146" class="s">8h7</text>
<line x1="46" y1="1150" x2="77" y2="1178" class="t" marker-end="url(#a2)"/><text transform="translate(40,1150) rotate(45)" class="s">Ø25h7</text>
<line x1="138" y1="1153" x2="110" y2="1178" class="t" marker-end="url(#a2)"/><text transform="translate(118,1168) rotate(-45)" class="s">Ø35</text>
<line x1="62" y1="1222" x2="74" y2="1210" class="t" marker-end="url(#a2)"/>
<line x1="108" y1="1210" x2="120" y2="1222" class="t" marker-start="url(#a1)"/>
<line x1="93" y1="1197" x2="110" y2="1232" class="t" marker-start="url(#a1)"/><line x1="110" y1="1232" x2="160" y2="1232" class="t"/>
<text x="111" y="1229" class="s">M10-d10</text>
</g>

<!-- Sleeve -->
<g>
<path d="M745,1048 Q730,1045 726,1060 Q722,1075 735,1085 L795,1117 Q810,1120 815,1105 Q820,1085 805,1078 z" class="t" fill="#fff"/>
<ellipse cx="805" cy="1098" rx="10" ry="20" transform="rotate(20 805 1098)" class="t"/>
<ellipse cx="806" cy="1099" rx="5" ry="11" transform="rotate(20 806 1099)" class="t"/>
<path d="M732,1068 L790,1102 M736,1062 L795,1096 M732,1068 Q730,1062 736,1062" class="t"/>
<rect x="593" y="1172" width="85" height="40" fill="#8c8c8c" stroke="#222" stroke-width=".8"/>
<rect x="598" y="1184" width="75" height="18" rx="9" fill="#fff" stroke="#222" stroke-width=".8"/>
<line x1="593" y1="1176" x2="678" y2="1176" stroke="#3aaa35" stroke-width=".7" stroke-dasharray="4 3"/>
<line x1="593" y1="1208" x2="678" y2="1208" stroke="#3aaa35" stroke-width=".7" stroke-dasharray="4 3"/>
<line x1="603" y1="1193" x2="668" y2="1193" stroke="#e33" stroke-width=".8" stroke-dasharray="10 3"/>
<line x1="593" y1="1150" x2="593" y2="1172" class="t"/><line x1="678" y1="1150" x2="678" y2="1172" class="t"/>
<line x1="593" y1="1155" x2="678" y2="1155" class="d"/><text x="636" y="1151" class="s" text-anchor="middle">40</text>
<line x1="570" y1="1172" x2="593" y2="1172" class="t"/><line x1="570" y1="1212" x2="593" y2="1212" class="t"/>
<line x1="577" y1="1172" x2="577" y2="1212" class="d"/><text transform="translate(567,1192) rotate(-90)" class="s" text-anchor="middle">Ø19h7</text>
<line x1="678" y1="1177" x2="705" y2="1177" class="t"/><line x1="678" y1="1207" x2="705" y2="1207" class="t"/>
<line x1="698" y1="1177" x2="698" y2="1207" class="d"/><text transform="translate(712,1192) rotate(-90)" class="s" text-anchor="middle">Ø14H7</text>
<circle cx="782" cy="1192" r="18" fill="none" stroke="#8c8c8c" stroke-width="5"/>
<circle cx="782" cy="1192" r="20.5" class="t"/><circle cx="782" cy="1192" r="15.5" class="t"/>
<line x1="760" y1="1192" x2="805" y2="1192" class="r"/><line x1="782" y1="1168" x2="782" y2="1215" class="r"/>
<line x1="748" y1="1160" x2="767" y2="1178" class="t" marker-end="url(#a2)"/><text transform="translate(738,1150) rotate(50)" class="s">Ø19h7</text>
<line x1="822" y1="1160" x2="798" y2="1180" class="t" marker-end="url(#a2)"/><text transform="translate(808,1178) rotate(-50)" class="s">Ø14H7</text>
<line x1="740" y1="1180" x2="770" y2="1180" class="t"/><line x1="740" y1="1204" x2="770" y2="1204" class="t"/>
<line x1="746" y1="1170" x2="746" y2="1180" class="d" style="marker-start:none"/><line x1="746" y1="1214" x2="746" y2="1204" class="d" style="marker-start:none"/>
<text transform="translate(742,1228) rotate(-90)" class="s" text-anchor="middle">8h7</text>
<line x1="795" y1="1186" x2="815" y2="1186" class="t"/><line x1="795" y1="1198" x2="815" y2="1198" class="t"/>
<line x1="810" y1="1176" x2="810" y2="1186" class="d" style="marker-start:none"/><line x1="810" y1="1208" x2="810" y2="1198" class="d" style="marker-start:none"/>
<text transform="translate(812,1232) rotate(-90)" class="s" text-anchor="middle">5h7</text>
</g>
</svg>
</body></html>
